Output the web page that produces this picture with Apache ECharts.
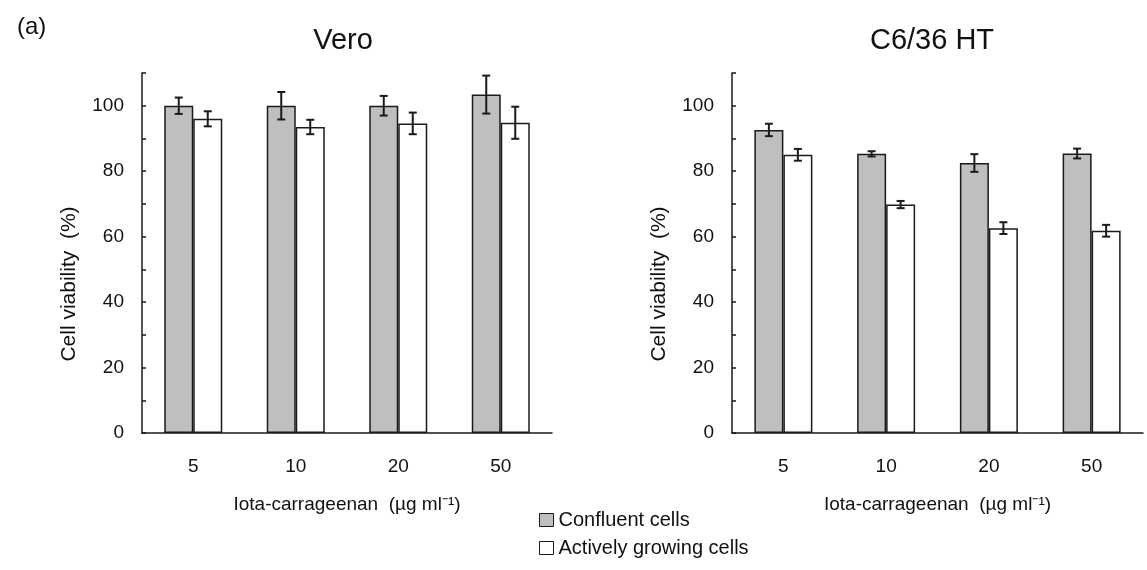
<!DOCTYPE html>
<html>
<head>
<meta charset="utf-8">
<script src="https://cdn.jsdelivr.net/npm/echarts@6/dist/echarts.min.js"></script>
<style>
  html, body { margin: 0; padding: 0; background: #fff; }
  #result { width: 1147px; height: 570px; }
</style>
</head>
<body>
<div id="result"></div>
<script>
var myChart = echarts.init(document.getElementById('result'));

// data
var concentrations = ['5', '10', '20', '50'];
var seriesNames = ['Confluent cells', 'Actively growing cells'];
var veroConfluent = [100, 100, 100, 103.4];
var veroConfluentErr = [2.5, 4.2, 3.0, 5.8];
var veroGrowing = [96.0, 93.5, 94.6, 94.8];
var veroGrowingErr = [2.3, 2.2, 3.3, 4.9];
var c636Confluent = [92.6, 85.3, 82.5, 85.4];
var c636ConfluentErr = [1.9, 0.8, 2.7, 1.5];
var c636Growing = [85.0, 69.8, 62.6, 61.8];
var c636GrowingErr = [1.8, 1.1, 1.8, 1.8];
var yTicks = [0, 20, 40, 60, 80, 100];

var FONT = '"Liberation Sans", Arial, sans-serif';
var BAR_W = 29;
var GRAY = '#bfbfbf';
var INK = '#1a1a1a';

function errData(vals, errs) {
	return vals.map(function (v, i) { return [i, v, errs[i]]; });
}

/* error bar drawn on top of a bar; side -1 = left bar, +1 = right bar */
function errRender(side) {
	return function (params, api) {
		var i = api.value(0), v = api.value(1), e = api.value(2);
		var hi = api.coord([i, v + e]);
		var lo = api.coord([i, v - e]);
		var x = hi[0] + side * BAR_W / 2;
		var cap = 4;
		var st = { stroke: INK, lineWidth: 2 };
		return {
			type: 'group',
			children: [
				{ type: 'line', shape: { x1: x, y1: hi[1], x2: x, y2: lo[1] }, style: st },
				{ type: 'line', shape: { x1: x - cap, y1: hi[1], x2: x + cap, y2: hi[1] }, style: st },
				{ type: 'line', shape: { x1: x - cap, y1: lo[1], x2: x + cap, y2: lo[1] }, style: st }
			]
		};
	};
}

function xAxis(idx) {
	return {
		type: 'category',
		gridIndex: idx,
		data: concentrations,
		axisLine: { lineStyle: { color: INK, width: 1.5 } },
		axisTick: { inside: true, length: 6, lineStyle: { color: INK, width: 1.5 } },
		axisLabel: { color: '#111', fontSize: 19, fontFamily: FONT, margin: 24 },
		name: 'Iota-carrageenan  (µg ml⁻¹)',
		nameLocation: 'middle',
		nameGap: 62,
		nameTextStyle: { color: '#111', fontSize: 19, fontFamily: FONT }
	};
}

function yAxis(idx) {
	return {
		type: 'value',
		gridIndex: idx,
		min: 0,
		max: 110,
		interval: 10,
		splitLine: { show: false },
		axisLine: { show: true, lineStyle: { color: INK, width: 1.5 } },
		axisTick: { show: true, inside: true, length: 4, lineStyle: { color: INK, width: 1.5 } },
		axisLabel: {
			color: '#111', fontSize: 19, fontFamily: FONT, margin: 18,
			formatter: function (v) { return yTicks.indexOf(v) >= 0 ? String(v) : ''; }
		},
		name: 'Cell viability  (%)',
		nameLocation: 'middle',
		nameRotate: 90,
		nameGap: 62,
		nameTextStyle: { color: '#111', fontSize: 21, fontFamily: FONT, padding: [0, 62, 0, 0] }
	};
}

function bars(name, idx, vals, color) {
	return {
		type: 'bar',
		name: name,
		xAxisIndex: idx,
		yAxisIndex: idx,
		data: vals,
		barWidth: BAR_W,
		barGap: '0%',
		itemStyle: { color: color, borderColor: INK, borderWidth: 1.5 },
		emphasis: { disabled: true }
	};
}

function errs(idx, vals, e, side) {
	return {
		type: 'custom',
		xAxisIndex: idx,
		yAxisIndex: idx,
		data: errData(vals, e),
		renderItem: errRender(side),
		z: 5,
		silent: true
	};
}

var option = {
	backgroundColor: '#fff',
	animation: false,
	textStyle: { fontFamily: FONT },
	title: [
		{ text: '(a)', left: 12, top: 10, textStyle: { fontSize: 24, fontWeight: 'normal', color: '#111', fontFamily: FONT } },
		{ text: 'Vero', left: 338, top: 21, textAlign: 'center', textStyle: { fontSize: 29, fontWeight: 'normal', color: '#111', fontFamily: FONT } },
		{ text: 'C6/36 HT', left: 927, top: 21, textAlign: 'center', textStyle: { fontSize: 29, fontWeight: 'normal', color: '#111', fontFamily: FONT } }
	],
	legend: {
		orient: 'vertical',
		left: 539,
		top: 510,
		padding: 0,
		itemWidth: 14,
		itemHeight: 13,
		itemGap: 8,
		icon: 'rect',
		textStyle: { fontSize: 20, color: '#111', fontFamily: FONT },
		data: [
			{ name: seriesNames[0], itemStyle: { color: GRAY, borderColor: INK, borderWidth: 1 } },
			{ name: seriesNames[1], itemStyle: { color: '#fff', borderColor: INK, borderWidth: 1 } }
		]
	},
	grid: [
		{ left: 142, top: 73, width: 410, height: 360 },
		{ left: 732, top: 73, width: 411, height: 360 }
	],
	xAxis: [xAxis(0), xAxis(1)],
	yAxis: [yAxis(0), yAxis(1)],
	series: [
		bars(seriesNames[0], 0, veroConfluent, GRAY),
		bars(seriesNames[1], 0, veroGrowing, '#fff'),
		bars(seriesNames[0], 1, c636Confluent, GRAY),
		bars(seriesNames[1], 1, c636Growing, '#fff'),
		errs(0, veroConfluent, veroConfluentErr, -1),
		errs(0, veroGrowing, veroGrowingErr, 1),
		errs(1, c636Confluent, c636ConfluentErr, -1),
		errs(1, c636Growing, c636GrowingErr, 1)
	]
};

myChart.setOption(option);
</script>
</body>
</html>
